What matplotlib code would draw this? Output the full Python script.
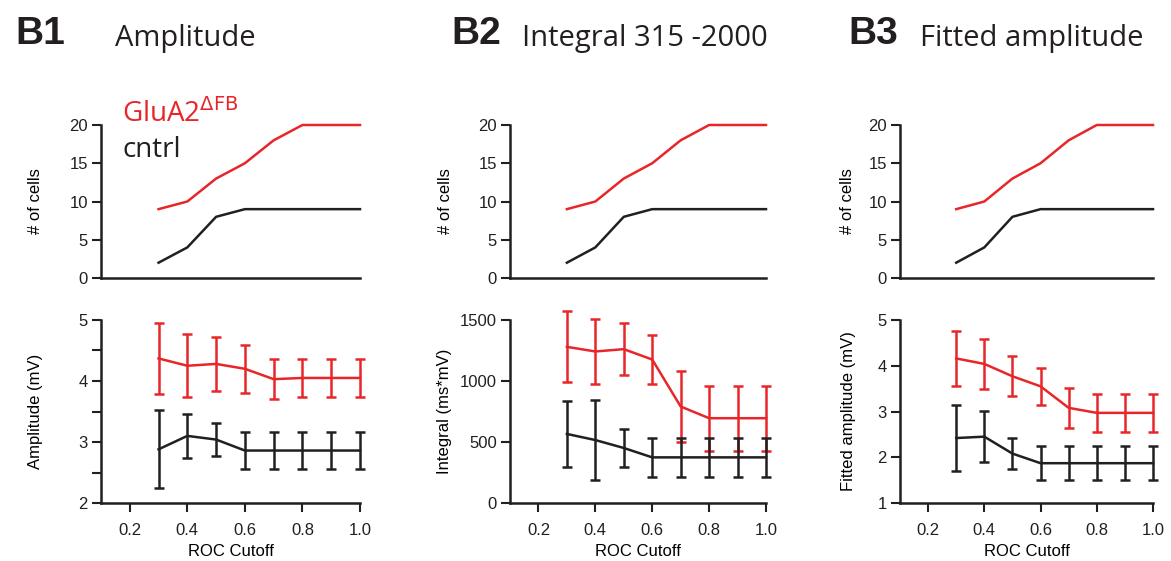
import numpy as np
import matplotlib
matplotlib.use("Agg")
import matplotlib.pyplot as plt

plt.rcParams['font.family'] = ['Liberation Sans', 'DejaVu Sans']

RED = '#e8262a'
BLK = '#231f20'

# ROC cutoff values
roc = [0.3, 0.4, 0.5, 0.6, 0.7, 0.8, 0.9, 1.0]

# number of cells (same in all three panels)
n_glua = [9, 10, 13, 15, 18, 20, 20, 20]
n_ctrl = [2, 4, 8, 9, 9, 9, 9, 9]

# B1 amplitude (mV)
amp_glua = [4.37, 4.25, 4.28, 4.20, 4.03, 4.05, 4.05, 4.05]
amp_glua_err = [0.58, 0.52, 0.44, 0.39, 0.33, 0.31, 0.31, 0.31]
amp_ctrl = [2.88, 3.10, 3.04, 2.86, 2.86, 2.86, 2.86, 2.86]
amp_ctrl_err = [0.64, 0.36, 0.27, 0.30, 0.30, 0.30, 0.30, 0.30]

# B2 integral (ms*mV)
int_glua = [1280, 1242, 1261, 1176, 791, 695, 695, 695]
int_glua_err = [290, 265, 215, 198, 290, 268, 268, 268]
int_ctrl = [566, 516, 451, 374, 374, 374, 374, 374]
int_ctrl_err = [270, 330, 157, 158, 158, 158, 158, 158]

# B3 fitted amplitude (mV)
fit_glua = [4.16, 4.04, 3.77, 3.55, 3.08, 2.97, 2.97, 2.97]
fit_glua_err = [0.61, 0.54, 0.44, 0.41, 0.44, 0.41, 0.41, 0.41]
fit_ctrl = [2.42, 2.45, 2.08, 1.87, 1.87, 1.87, 1.87, 1.87]
fit_ctrl_err = [0.73, 0.56, 0.33, 0.37, 0.37, 0.37, 0.37, 0.37]

panels = [
    ('B1', 'Amplitude', 'Amplitude (mV)', amp_glua, amp_glua_err, amp_ctrl, amp_ctrl_err,
     (2, 5), [2, 3, 4, 5], [2.5, 3.5, 4.5]),
    ('B2', 'Integral 315 -2000', 'Integral (ms*mV)', int_glua, int_glua_err, int_ctrl, int_ctrl_err,
     (0, 1500), [0, 500, 1000, 1500], []),
    ('B3', 'Fitted amplitude', 'Fitted amplitude (mV)', fit_glua, fit_glua_err, fit_ctrl, fit_ctrl_err,
     (1, 5), [1, 2, 3, 4, 5], []),
]

W, H = 1171, 561
fig = plt.figure(figsize=(W / 100, H / 100), dpi=100)

lefts = [101, 510, 900]
widths = [259, 256, 253]
ylab_x = [35, 445, 848]   # pixel centre of the y labels
lw = 1.8


def style(ax):
    for s in ['top', 'right']:
        ax.spines[s].set_visible(False)
    for s in ['left', 'bottom']:
        ax.spines[s].set_linewidth(1.8)
        ax.spines[s].set_color(BLK)
    ax.tick_params(which='both', direction='out', length=6.5, width=1.5, labelsize=12,
                   colors=BLK)
    ax.tick_params(axis='y', pad=3)
    ax.tick_params(axis='x', pad=8)
    ax.set_xlim(0.1, 1.0)


for i, (tag, title, ylab, g, ge, c, ce, ylim, yt, ymin) in enumerate(panels):
    x0 = lefts[i] / W
    w = widths[i] / W
    lx = (ylab_x[i] - lefts[i]) / widths[i]
    # top: number of cells
    ax1 = fig.add_axes([x0, 1 - 278 / H, w, 153 / H])
    style(ax1)
    ax1.plot(roc, n_glua, color=RED, lw=lw, clip_on=False)
    ax1.plot(roc, n_ctrl, color=BLK, lw=lw, clip_on=False)
    ax1.set_ylim(0, 20)
    ax1.set_yticks([0, 5, 10, 15, 20])
    ax1.set_xticks([])
    ax1.set_ylabel('# of cells', fontsize=12, va='center')
    ax1.yaxis.set_label_coords(lx, 0.5)

    # bottom: measure vs ROC cutoff
    ax2 = fig.add_axes([x0, 1 - 503 / H, w, 183 / H])
    style(ax2)
    ax2.errorbar(roc, g, yerr=ge, color=RED, lw=lw, elinewidth=lw, capsize=3.5,
                 capthick=lw, clip_on=False)
    ax2.errorbar(roc, c, yerr=ce, color=BLK, lw=lw, elinewidth=lw, capsize=3.5,
                 capthick=lw, clip_on=False)
    ax2.set_ylim(*ylim)
    ax2.set_yticks(yt)
    ax2.set_yticks(ymin, minor=True)
    ax2.set_xticks([0.2, 0.4, 0.6, 0.8, 1.0])
    ax2.set_xticklabels(['0.2', '0.4', '0.6', '0.8', '1.0'])
    ax2.set_xlabel('ROC Cutoff', fontsize=12, labelpad=4)
    ax2.set_ylabel(ylab, fontsize=12, va='center')
    ax2.yaxis.set_label_coords(lx, 0.5)

# panel titles
tag_x = [15, 451, 848]
title_x = [115, 522, 920]
for i, p in enumerate(panels):
    fig.text(tag_x[i] / W, 1 - 44 / H, p[0], fontsize=28, fontweight='bold',
             color=BLK, family=['Liberation Sans'], va='baseline')
    fig.text(title_x[i] / W, 1 - 46 / H, p[1], fontsize=21, color=BLK,
             family=['Open Sans'], va='baseline')

# legend text
fig.text(122 / W, 1 - 122 / H, r'GluA2$^{\Delta\mathrm{FB}}$', fontsize=20, color=RED,
         family=['Open Sans'], va='baseline')
fig.text(122 / W, 1 - 157 / H, 'cntrl', fontsize=20, color=BLK,
         family=['Open Sans'], va='baseline')

fig.savefig('out.png', dpi=100)
